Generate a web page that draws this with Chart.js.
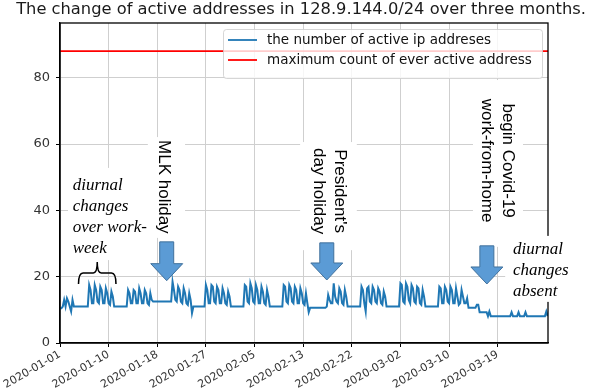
<!DOCTYPE html>
<html>
<head>
<meta charset="utf-8">
<script src="https://cdn.jsdelivr.net/npm/chart.js@4.4.0/dist/chart.umd.min.js"></script>
<style>
  html, body { margin: 0; padding: 0; background: #fff; }
  #wrap { width: 589px; height: 392px; position: relative; }
</style>
</head>
<body>
<div id="wrap"><canvas id="myChart"></canvas></div>
<script>
//////////////////////////// DATA ////////////////////////////
const titleText = "The change of active addresses in 128.9.144.0/24 over three months.";
const seriesNames = ["the number of active ip addreses", "maximum count of ever active address"];

// active addresses, 4 samples per day (00h, 06h, 12h, 18h), starting 2020-01-01
const samplesPerDay = 4;
const janCounts = [
  10.5, 10.5, 11, 13,   11, 13.5, 12.5, 11,   9.5, 13, 11, 11,   11, 11, 11, 11,   11, 11, 11, 11,
  11, 17.5, 16, 12,   12, 17.5, 16, 12.5,   12, 17, 16, 12,   12, 16.5, 15, 12,   11.5, 15.5, 14, 11,
  11, 11, 11, 11,   11, 11, 11, 11,
  11, 16, 15, 12,   12, 16, 15.5, 12,   12, 16.5, 15, 12,   12, 16, 15, 12,   11.5, 15, 13, 12.5,
  12.5, 12.5, 12.5, 12.5,   12.5, 12.5, 12.5, 12.5,   12.5, 12.5, 12.5, 12.5,
  12.5, 18.5, 16, 13,   12.5, 17, 16, 12.5,   12, 16.5, 15, 12,   11.5, 15, 13, 9,
  11, 11, 11, 11,   11, 11, 11, 11,
  11, 17.5, 16, 12,   12, 17.5, 17, 12.5,   12, 17, 16, 12,   12, 16.5, 15, 12,   11.5, 15.5, 14, 11
];
const febCounts = [
  11, 11, 11, 11,   11, 11, 11, 11,
  11, 17.5, 17, 12.5,   12, 18, 16.5, 12.5,   12, 17.5, 16, 12,   12, 17, 15.5, 12,   11.5, 16, 14, 11,
  11, 11, 11, 11,   11, 11, 11, 11,
  11, 17.5, 17, 12.5,   12, 17.5, 16.5, 12.5,   12, 17, 16, 12,   12, 16.5, 15, 12,   11.5, 15, 12, 9.3,
  10.6, 10.6, 10.6, 10.6,   10.6, 10.6, 10.6, 10.6,   10.6, 10.6, 10.6, 10.6,
  11, 14.5, 13, 12,   12, 18, 14, 12.5,   12, 16.5, 15.5, 12,   11.5, 16, 14, 11,
  11, 11, 11, 11,   11, 11, 11, 11,
  11, 17, 16, 12,   9.5, 16.5, 17, 12.5,   12, 17, 16, 12.5,   12, 16.5, 15.5, 12,   11.5, 15.5, 14, 11,
  11, 11, 11, 11
];
const marCounts = [
  11, 11, 11, 11,
  11, 18, 17.5, 12.5,   12, 18, 17, 13,   12, 17.5, 16.5, 12.5,   12, 17, 16.5, 12,   11.5, 16, 14, 11,
  11, 11, 11, 11,   11, 11, 11, 11,
  11, 17, 16.5, 12,   12, 17, 16, 12.5,   12, 17, 16, 12,   12, 16.5, 14, 11.5,   12, 16, 14, 12,
  12, 13.5, 10.6, 10.6,   10.6, 10.6, 10.6, 10.6,   11.5, 11.5, 9.3, 9.3,   9.3, 9.3, 9.3, 9.3,
  8.1, 9.5, 8.1, 8.1,   8.1, 8.1, 8.1, 8.1,   8.1, 8.1, 8.1, 8.1,   8.1, 8.1, 8.1, 8.1,
  8.1, 9.3, 8.1, 8.1,   8.1, 8.1, 9.3, 8.1,   8.1, 8.1, 8.1, 9.3,
  8.1, 8.1, 8.1, 8.1,   8.1, 8.1, 8.1, 8.1,   8.1, 8.1, 8.1, 8.1,
  8.1, 8.1, 9.5, 8.1
];
const maxEverActive = 88;

const tickDays = [0, 8.75, 17.5, 26.25, 35, 43.75, 52.5, 61.25, 70, 78.75];
const tickLabels = ["2020-01-01", "2020-01-10", "2020-01-18", "2020-01-27", "2020-02-05",
                    "2020-02-13", "2020-02-22", "2020-03-02", "2020-03-10", "2020-03-19"];
const yTicks = [0, 20, 40, 60, 80];
const xEnd = 87.8;
const yEnd = 96.5;

//////////////////////////// ANNOTATIONS (days / counts) ////////////////////////////
const arrows = [
  { day: 19.2, top: 30.5, tip: 18.8 },
  { day: 48.0, top: 30.2, tip: 19.0 },
  { day: 76.8, top: 29.3, tip: 17.8 }
];
const whiteBoxes = [
  { d0: 1.44, d1: 16.2, v0: 25.0, v1: 52.8 },
  { d0: 15.8, d1: 22.5, v0: 31.7, v1: 62.1 },
  { d0: 43.2, d1: 53.4, v0: 28.0, v1: 60.6 },
  { d0: 74.3, d1: 83.3, v0: 29.0, v1: 79.3 },
  { d0: 80.1, d1: 95.2, v0: 12.4, v1: 32.3 }
];
const rotatedNotes = [
  { lines: ["MLK holiday"], day: 17.8, mid: 47.1 },
  { lines: ["President's", "day holiday"], day: 49.4, mid: 45.8 },
  { lines: ["begin Covid-19", "work-from-home"], day: 79.7, mid: 55.0 }
];
const italicNotes = [
  { lines: ["diurnal", "changes", "over work-", "week"], day: 2.29, base: 46.1 },
  { lines: ["diurnal", "changes", "absent"], day: 81.5, base: 26.8 }
];

//////////////////////////// BUILD DATASETS ////////////////////////////
const counts = janCounts.concat(febCounts, marCounts);
const activePoints = counts.map((v, i) => ({ x: i / samplesPerDay, y: v }));
const maxPoints = [{ x: 0, y: maxEverActive }, { x: xEnd, y: maxEverActive }];
const seriesColors = ["#1f77b4", "#ff0000"];

function roundRect(ctx, x, y, w, h, r) {
  ctx.beginPath();
  ctx.moveTo(x + r, y);
  ctx.arcTo(x + w, y, x + w, y + h, r);
  ctx.arcTo(x + w, y + h, x, y + h, r);
  ctx.arcTo(x, y + h, x, y, r);
  ctx.arcTo(x, y, x + w, y, r);
  ctx.closePath();
}

const notesPlugin = {
  id: "notes",
  afterDraw(chart) {
    const ctx = chart.ctx;
    const a = chart.chartArea;
    const px = d => chart.scales.x.getPixelForValue(d);
    const py = v => chart.scales.y.getPixelForValue(v);
    ctx.save();

    // frame
    ctx.strokeStyle = "#000";
    ctx.lineWidth = 1.3;
    ctx.strokeRect(a.left, a.top, a.right - a.left, a.bottom - a.top);

    // title
    ctx.fillStyle = "#1a1a1a";
    ctx.font = "16.3px 'DejaVu Sans'";
    ctx.textAlign = "center";
    ctx.textBaseline = "alphabetic";
    ctx.fillText(titleText, 301, 14);

    // legend
    const lx = 223, ly = 29, lw = 319, lh = 49;
    roundRect(ctx, lx + 0.5, ly + 0.5, lw, lh, 3);
    ctx.fillStyle = "rgba(255,255,255,0.8)";
    ctx.fill();
    ctx.strokeStyle = "rgba(204,204,204,0.8)";
    ctx.lineWidth = 1;
    ctx.stroke();
    ctx.font = "13.5px 'DejaVu Sans'";
    ctx.textAlign = "left";
    ctx.textBaseline = "middle";
    seriesNames.forEach((name, i) => {
      const yy = ly + 11 + i * 20;
      ctx.strokeStyle = seriesColors[i];
      ctx.lineWidth = 1.8;
      ctx.beginPath();
      ctx.moveTo(lx + 5, yy);
      ctx.lineTo(lx + 34, yy);
      ctx.stroke();
      ctx.fillStyle = "#111";
      ctx.fillText(name, lx + 44, yy);
    });

    // white boxes behind annotations
    ctx.fillStyle = "#fff";
    whiteBoxes.forEach(b => {
      ctx.fillRect(px(b.d0), py(b.v1), px(b.d1) - px(b.d0), py(b.v0) - py(b.v1));
    });

    // rotated sans notes
    ctx.fillStyle = "#000";
    ctx.font = "17px 'Liberation Sans'";
    ctx.textAlign = "center";
    ctx.textBaseline = "alphabetic";
    rotatedNotes.forEach(n => {
      n.lines.forEach((line, i) => {
        ctx.save();
        ctx.translate(px(n.day) - i * 21, py(n.mid));
        ctx.rotate(Math.PI / 2);
        ctx.fillText(line, 0, 0);
        ctx.restore();
      });
    });

    // italic serif notes
    ctx.font = "italic 17px 'Liberation Serif'";
    ctx.textAlign = "left";
    italicNotes.forEach(n => {
      n.lines.forEach((line, i) => {
        ctx.fillText(line, px(n.day), py(n.base) + i * 21);
      });
    });

    // block arrows
    arrows.forEach(ar => {
      const cx = px(ar.day), top = py(ar.top), tip = py(ar.tip);
      const headStart = tip - 17;
      ctx.beginPath();
      ctx.moveTo(cx - 7, top);
      ctx.lineTo(cx + 7, top);
      ctx.lineTo(cx + 7, headStart);
      ctx.lineTo(cx + 16, headStart);
      ctx.lineTo(cx, tip);
      ctx.lineTo(cx - 16, headStart);
      ctx.lineTo(cx - 7, headStart);
      ctx.closePath();
      ctx.fillStyle = "#5b9bd5";
      ctx.fill();
      ctx.strokeStyle = "#41719c";
      ctx.lineWidth = 1;
      ctx.stroke();
    });

    // curly brace over the first work-week
    const b0 = px(3.33), b1 = px(10.07), bm = (b0 + b1) / 2;
    const foot = py(17.8), mid = py(21.1), peak = py(24.4);
    ctx.strokeStyle = "#000";
    ctx.lineWidth = 1.5;
    ctx.beginPath();
    ctx.moveTo(b0, foot);
    ctx.quadraticCurveTo(b0, mid, b0 + 4.5, mid);
    ctx.lineTo(bm - 4, mid);
    ctx.quadraticCurveTo(bm, mid, bm, peak);
    ctx.quadraticCurveTo(bm, mid, bm + 4, mid);
    ctx.lineTo(b1 - 4.5, mid);
    ctx.quadraticCurveTo(b1, mid, b1, foot);
    ctx.stroke();

    ctx.restore();
  }
};

//////////////////////////// CHART ////////////////////////////
const config = {
  type: "line",
  data: {
    datasets: [
      { label: seriesNames[0], data: activePoints, borderColor: seriesColors[0], borderWidth: 2,
        pointRadius: 0, tension: 0, fill: false },
      { label: seriesNames[1], data: maxPoints, borderColor: seriesColors[1], borderWidth: 1.8,
        pointRadius: 0, tension: 0, fill: false }
    ]
  },
  options: {
    responsive: true,
    maintainAspectRatio: false,
    animation: false,
    layout: { padding: { top: 23, right: 41, bottom: 0, left: 0 } },
    plugins: { legend: { display: false }, title: { display: false }, tooltip: { enabled: false } },
    scales: {
      x: {
        type: "linear", min: 0, max: xEnd,
        afterBuildTicks: s => { s.ticks = tickDays.map(v => ({ value: v })); },
        afterFit: s => { s.height = 49; s.paddingLeft = 0; s.paddingRight = 0; },
        ticks: {
          autoSkip: false, minRotation: 30, maxRotation: 30, padding: 1,
          color: "#333", font: { family: "DejaVu Sans", size: 11 },
          callback: (v, i) => tickLabels[i]
        },
        grid: { color: "#cfcfcf", lineWidth: 1, tickColor: "#000", tickLength: 4 },
        border: { display: true, color: "#000", width: 1.3 }
      },
      y: {
        min: 0, max: yEnd,
        afterBuildTicks: s => { s.ticks = yTicks.map(v => ({ value: v })); },
        afterFit: s => { s.width = 60; s.paddingTop = 0; s.paddingBottom = 0; },
        ticks: { padding: 6, color: "#333", font: { family: "DejaVu Sans", size: 13 }, callback: v => v },
        grid: { color: "#cfcfcf", lineWidth: 1, tickColor: "#000", tickLength: 4 },
        border: { display: true, color: "#000", width: 1.3 }
      }
    }
  },
  plugins: [notesPlugin]
};

const myChart = new Chart(document.getElementById("myChart"), config);
</script>
</body>
</html>
